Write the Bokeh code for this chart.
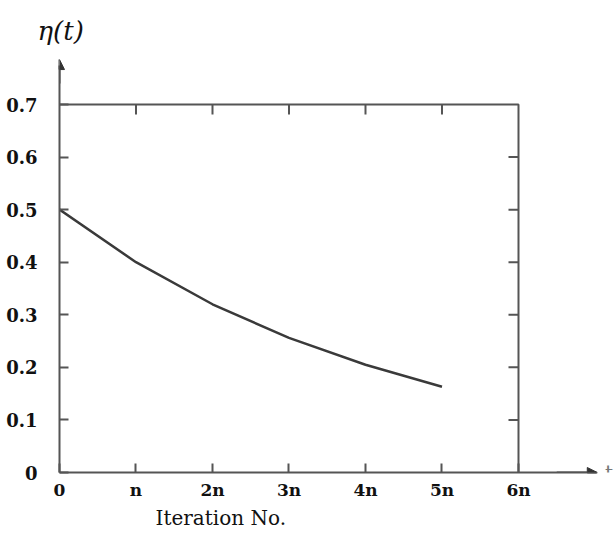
import math
from bokeh.plotting import figure
from bokeh.models import Range1d, LinearAxis, FixedTicker, Arrow, NormalHead, Title
from bokeh.core.properties import value
from bokeh.embed import file_html
from bokeh.resources import INLINE

# ---- data ----
x_iter = [0, 1, 2, 3, 4, 5]                 # iteration number in units of n
eta = [0.5, 0.4, 0.32, 0.256, 0.205, 0.163]  # eta(t)

x_ticks = [0, 1, 2, 3, 4, 5, 6]
x_tick_labels = ["0", "n", "2n", "3n", "4n", "5n", "6n"]
y_ticks = [0, 0.1, 0.2, 0.3, 0.4, 0.5, 0.6, 0.7]
y_tick_labels = ["0", "0.1", "0.2", "0.3", "0.4", "0.5", "0.6", "0.7"]

AX = "#555555"
TXT = "#111111"

p = figure(width=614, height=538,
           x_range=Range1d(0, 7.255), y_range=Range1d(0, 0.7875),
           output_backend="svg", toolbar_location=None,
           x_axis_type=None, y_axis_type=None,
           min_border_left=59, min_border_right=0,
           min_border_top=58, min_border_bottom=66)
p.outline_line_color = None
p.background_fill_color = "white"
p.border_fill_color = "white"

p.title.text = "η(t)"
p.title.align = "left"
p.title.offset = -22
p.title.standoff = 25
p.title.text_font = "DejaVu Serif"
p.title.text_font_style = "italic"
p.title.text_font_size = "26px"
p.title.text_color = TXT

def style(ax, tick_in):
    ax.axis_line_color = AX
    ax.axis_line_width = 2
    ax.major_tick_line_color = AX
    ax.major_tick_line_width = 2
    ax.major_tick_in = tick_in
    ax.major_tick_out = 0
    ax.minor_tick_line_color = None

# bottom axis (ticks + labels)
xa = LinearAxis(ticker=FixedTicker(ticks=x_ticks),
                major_label_overrides={t: l for t, l in zip(x_ticks, x_tick_labels)},
                bounds=(0, 7.02))
style(xa, 9)
xa.major_label_text_font = "DejaVu Serif"
xa.major_label_text_font_style = "bold"
xa.major_label_text_font_size = "17px"
xa.major_label_text_color = TXT
xa.major_label_standoff = 7
p.add_layout(xa, "below")

# x axis title, placed under the 2n-3n labels as in the original
p.add_layout(Title(text="Iteration No.", align="left", offset=96, standoff=3,
                   text_font="DejaVu Serif", text_font_style="normal",
                   text_font_size="20px", text_color=TXT), "below")

# left axis
ya = LinearAxis(ticker=FixedTicker(ticks=y_ticks),
                major_label_overrides={t: l for t, l in zip(y_ticks, y_tick_labels)},
                bounds=(0, 0.775))
style(ya, 9)
ya.major_label_text_font = "DejaVu Serif"
ya.major_label_text_font_style = "bold"
ya.major_label_text_font_size = "18px"
ya.major_label_text_color = TXT
ya.major_label_standoff = 22
p.add_layout(ya, "left")

# top and right borders of the box, with inward ticks
x_max = x_ticks[-1]
y_max = y_ticks[-1]
p.line([x_ticks[0], x_max, x_max], [y_max, y_max, y_ticks[0]],
       line_color=AX, line_width=2)
p.ray(x=x_ticks[1:-1], y=[y_max] * (len(x_ticks) - 2), length=10,
      length_units="screen", angle=-math.pi / 2, line_color=AX, line_width=2)
p.ray(x=[x_max] * (len(y_ticks) - 2), y=y_ticks[1:-1], length=10,
      length_units="screen", angle=math.pi, line_color=AX, line_width=2)

# arrow heads
p.add_layout(Arrow(end=NormalHead(size=10, fill_color="#333333", line_color="#333333"),
                   x_start=6.5, y_start=0, x_end=7.03, y_end=0,
                   line_color=AX, line_width=2))
p.add_layout(Arrow(end=NormalHead(size=10, fill_color="#333333", line_color="#333333"),
                   x_start=0, y_start=0.74, x_end=0, y_end=0.7855,
                   line_color=AX, line_width=2))

# curve
p.line(x_iter, eta, line_color="#3a3a3a", line_width=2.5)

# axis variable at the arrow tip
p.text(x=[7.13], y=[0], text=["t"], text_font=value("DejaVu Serif"),
       text_font_size="20px", text_color="#777777",
       text_align="left", text_baseline="middle")

open("out.html", "w").write(file_html(p, INLINE))
